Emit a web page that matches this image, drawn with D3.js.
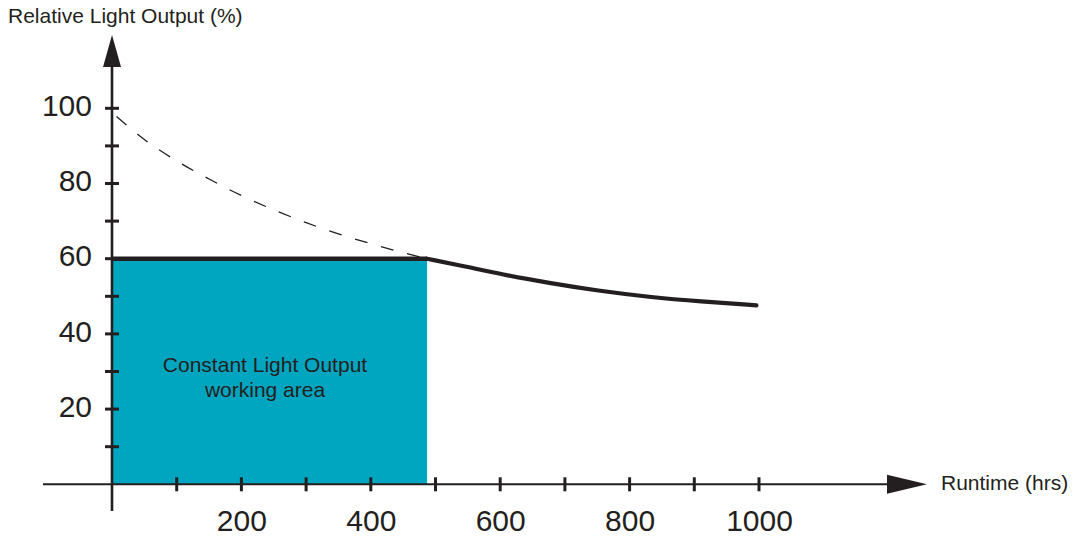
<!DOCTYPE html>
<html>
<head>
<meta charset="utf-8">
<script src="https://cdn.jsdelivr.net/npm/d3@7"></script>
<style>
  body { margin: 0; background: #fff; }
  svg { display: block; font-family: 'Liberation Sans', Arial, sans-serif; }
  .tick-label text { font-size: 30px; fill: #231f20; }
  .label { font-size: 21px; fill: #231f20; }
</style>
</head>
<body>
<svg width="1075" height="538"></svg>
<script>
// tick values
const runtimeTicks = [100, 200, 300, 400, 500, 600, 700, 800, 900, 1000];
const runtimeLabels = [200, 400, 600, 800, 1000];
const outputTicks = [10, 20, 30, 40, 50, 60, 70, 80, 90, 100];
const outputLabels = [20, 40, 60, 80, 100];

// constant light output area
const constantLevel = 60;
const constantEnd = 487;

// uncompensated output (dashed)
const dashedRuntime = [7, 50, 100, 150, 200, 250, 300, 350, 400, 450, 487];
const dashedOutput = [97.8, 91.7, 86.0, 81.2, 76.8, 73.0, 69.6, 66.6, 64.0, 61.6, 60];

// output after the working area (solid)
const lumenRuntime = [487, 550, 600, 680, 750, 830, 910, 996];
const lumenOutput = [60, 57.8, 55.9, 53.4, 51.5, 49.8, 48.6, 47.6];

const ink = '#231f20';
const svg = d3.select('svg');

const xScale = d3.scaleLinear().domain([0, 1000]).range([112, 759]);
const yScale = d3.scaleLinear().domain([0, 100]).range([484.3, 108.3]);

const x0 = xScale(0);
const y0 = yScale(0);

// working area
svg.append('rect')
    .attr('x', x0)
    .attr('y', yScale(constantLevel))
    .attr('width', xScale(constantEnd) - x0)
    .attr('height', y0 - yScale(constantLevel))
    .attr('fill', '#00a5c0');

svg.append('text')
    .attr('class', 'label')
    .attr('x', 265)
    .attr('y', 372)
    .attr('text-anchor', 'middle')
    .text('Constant Light Output');

svg.append('text')
    .attr('class', 'label')
    .attr('x', 265)
    .attr('y', 397)
    .attr('text-anchor', 'middle')
    .text('working area');

// axes lines
svg.append('line')
    .attr('x1', 43).attr('x2', 890)
    .attr('y1', y0).attr('y2', y0)
    .attr('stroke', ink).attr('stroke-width', 2);

svg.append('line')
    .attr('x1', x0).attr('x2', x0)
    .attr('y1', 511).attr('y2', 64)
    .attr('stroke', ink).attr('stroke-width', 2.6);

// arrow heads
svg.append('path')
    .attr('d', `M${x0},35 L${x0 + 9},67 L${x0 - 9},67 Z`)
    .attr('fill', ink);

svg.append('path')
    .attr('d', `M927,${y0} L887,${y0 - 9.5} L887,${y0 + 9.5} Z`)
    .attr('fill', ink);

// tick marks
svg.append('g')
    .selectAll('line')
    .data(outputTicks)
    .enter()
    .append('line')
    .attr('x1', x0 - 7).attr('x2', x0 + 7)
    .attr('y1', d => yScale(d)).attr('y2', d => yScale(d))
    .attr('stroke', ink).attr('stroke-width', 3);

svg.append('g')
    .selectAll('line')
    .data(runtimeTicks)
    .enter()
    .append('line')
    .attr('x1', d => xScale(d)).attr('x2', d => xScale(d))
    .attr('y1', y0 - 7).attr('y2', y0 + 7)
    .attr('stroke', ink).attr('stroke-width', 3);

// tick labels through d3 axes
const yAxis = svg.append('g')
    .attr('class', 'tick-label')
    .attr('transform', `translate(${x0}, 0)`)
    .call(d3.axisLeft(yScale).tickValues(outputLabels).tickFormat(d3.format('d'))
        .tickSize(0).tickPadding(20));
yAxis.select('.domain').remove();
yAxis.selectAll('text')
    .attr('dy', '0.24em')
    .style('font-family', "'Liberation Sans', Arial, sans-serif");

const xAxis = svg.append('g')
    .attr('class', 'tick-label')
    .attr('transform', `translate(0, ${y0})`)
    .call(d3.axisBottom(xScale).tickValues(runtimeLabels).tickFormat(d3.format('d'))
        .tickSize(0).tickPadding(25));
xAxis.select('.domain').remove();
xAxis.selectAll('text')
    .style('font-family', "'Liberation Sans', Arial, sans-serif");

// dashed decay
const line = d3.line()
    .x(d => xScale(d[0]))
    .y(d => yScale(d[1]))
    .curve(d3.curveMonotoneX);

svg.append('path')
    .datum(dashedRuntime.map((r, i) => [r, dashedOutput[i]]))
    .attr('d', line)
    .attr('fill', 'none')
    .attr('stroke', ink)
    .attr('stroke-width', 1.3)
    .attr('stroke-dasharray', '13,14');

// constant output level
svg.append('path')
    .datum([[0, constantLevel], [constantEnd, constantLevel]])
    .attr('d', line)
    .attr('fill', 'none')
    .attr('stroke', ink)
    .attr('stroke-width', 4.5);

svg.append('path')
    .datum(lumenRuntime.map((r, i) => [r, lumenOutput[i]]))
    .attr('d', line.curve(d3.curveBasis))
    .attr('fill', 'none')
    .attr('stroke', ink)
    .attr('stroke-width', 4.2)
    .attr('stroke-linecap', 'round')
    .attr('stroke-linejoin', 'round');

// axis titles
svg.append('text')
    .attr('class', 'label')
    .attr('x', 8)
    .attr('y', 23)
    .text('Relative Light Output (%)');

svg.append('text')
    .attr('class', 'label')
    .attr('x', 941)
    .attr('y', 490)
    .text('Runtime (hrs)');
</script>
</body>
</html>
